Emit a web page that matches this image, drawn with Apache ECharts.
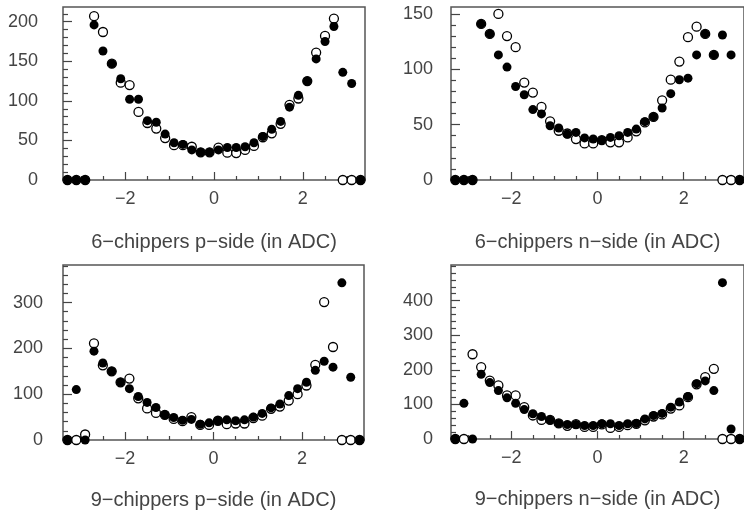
<!DOCTYPE html>
<html><head><meta charset="utf-8">
<script src="https://cdn.jsdelivr.net/npm/echarts@6/dist/echarts.min.js"></script>
<style>html,body{margin:0;padding:0;background:#fff}#c{width:744px;height:512px}</style>
</head><body><div id="c"></div>
<script>
// bin centres (x)
const xCenters = [-3.3,-3.1,-2.9,-2.7,-2.5,-2.3,-2.1,-1.9,-1.7,-1.5,-1.3,-1.1,-0.9,-0.7,-0.5,-0.3,-0.1,
                  0.1,0.3,0.5,0.7,0.9,1.1,1.3,1.5,1.7,1.9,2.1,2.3,2.5,2.7,2.9,3.1,3.3];
const xTickLabels = [-2, 0, 2];

// 6-chippers p-side
const p6Open   = [0,0,0,207,187,147,123,120,86,72,65,53,44,44,42,35,35,41,34.5,34,38,43,54,59,71,95,103,125,161,182,204,0,0,0];
const p6Filled = [0,0,0,196,163,147,128,102,102,75,73,58,47,45,38,35,35,38,41,41,42,47,55,64,74,92,107,125,153,175,194,136,122,0];
// 6-chippers n-side
const n6Open   = [0,0,0,141,132,150,130,120,88,79,66,53,44.5,42,37,33,33,36,34,34,38.5,44,52,57,72,90.6,107,129,138.5,132,113,0,0,0];
const n6Filled = [0,0,0,141,132,113,102,84.5,77,63.6,59.7,49,47,41.5,43,38,37,36,38.5,40,43,46,52.7,57,65,78,90.6,92,113,132,113,131,113,0];
// 9-chippers p-side
const p9Open   = [0,0,12,211,163,150,126,134,91,69,59,55,46,41,50,33,33,42,34.5,36,36,48,53,68,73,86,100,119,164,301,203,0,0,0];
const p9Filled = [0,110,0,194,168,150,126,112,95,82,71,55,49,43,45,34.5,37.5,42,44,42,44,50,58,70,78.5,97,112,126,152,172,159,343,137,0];
// 9-chippers n-side
const n9Open   = [0,0,245,208,169,155,126,126,92,68,55,55,45,38,43,35,35,42,32,35,40,44,54,65,71,88,97,121,158,179,203,0,0,0];
const n9Filled = [0,103,0,187,163,140,119,103,85,73,65,55,45,42,42,39,39,44,44,39,44,45,58,68,74,92,107,123,160,168,140,452,29,0];

// y tick labels per panel
const yTicks6p = [0,50,100,150,200];
const yTicks6n = [0,50,100,150];
const yTicks9p = [0,100,200,300];
const yTicks9n = [0,100,200,300,400];

const titles = ['6−chippers p−side (in ADC)','6−chippers n−side (in ADC)','9−chippers p−side (in ADC)','9−chippers n−side (in ADC)'];

const panels = [
  {title:titles[0], open:p6Open, filled:p6Filled, yTicks:yTicks6p, yMax:218.6, minor:10, lblMargin:25, nameGap:52, rect:{left:63, top:7, width:302, height:173}},
  {title:titles[1], open:n6Open, filled:n6Filled, yTicks:yTicks6n, yMax:156.3, minor:10, lblMargin:18, nameGap:52, rect:{left:451, top:7, width:297, height:173}},
  {title:titles[2], open:p9Open, filled:p9Filled, yTicks:yTicks9p, yMax:382, minor:20, lblMargin:20, nameGap:50, rect:{left:63, top:265, width:301, height:175}},
  {title:titles[3], open:n9Open, filled:n9Filled, yTicks:yTicks9n, yMax:503, minor:20, lblMargin:18, nameGap:50, rect:{left:451, top:265, width:297, height:174}}
];

const FONT = 'Liberation Sans';
const TXT = '#444';
const TICK = '#444';
const xMin = -3.4, xMax = 3.4;
const xMinor = [];
for (let v = -3; v <= 3.0001; v += 0.5) { const r = Math.round(v*10)/10; if (xTickLabels.indexOf(r) < 0) xMinor.push(r); }

const fmt = v => (v < 0 ? '−' + Math.abs(v) : String(v));
const pairs = arr => xCenters.map((x, k) => [x, arr[k]]);

const grid = [], xAxis = [], yAxis = [], series = [];
panels.forEach((p, i) => {
  grid.push(Object.assign({show:true, borderColor:'#555', borderWidth:1.5, backgroundColor:'transparent'}, p.rect));
  xAxis.push({
    type:'value', gridIndex:i, min:xMin, max:xMax, position:'bottom',
    name:p.title, nameLocation:'middle', nameGap:p.nameGap,
    nameTextStyle:{fontFamily:FONT, fontSize:20, color:TXT},
    axisLine:{show:false, onZero:false}, splitLine:{show:false},
    axisTick:{inside:true, length:8, customValues:xTickLabels, lineStyle:{color:TICK, width:1.2}},
    axisLabel:{customValues:xTickLabels, formatter:fmt, margin:10, fontFamily:FONT, fontSize:18, color:TXT}
  });
  xAxis.push({
    type:'value', gridIndex:i, min:xMin, max:xMax, position:'bottom',
    axisLine:{show:false, onZero:false}, splitLine:{show:false}, axisLabel:{show:false},
    axisTick:{inside:true, length:4, customValues:xMinor, lineStyle:{color:TICK, width:1.2}}
  });
  const yMinor = [];
  for (let v = p.minor; v < p.yMax; v += p.minor) if (p.yTicks.indexOf(v) < 0) yMinor.push(v);
  yAxis.push({
    type:'value', gridIndex:i, min:0, max:p.yMax, position:'left',
    axisLine:{show:false, onZero:false}, splitLine:{show:false},
    axisTick:{inside:true, length:9, customValues:p.yTicks, lineStyle:{color:TICK, width:1.2}},
    axisLabel:{customValues:p.yTicks, margin:p.lblMargin, fontFamily:FONT, fontSize:18, color:TXT}
  });
  yAxis.push({
    type:'value', gridIndex:i, min:0, max:p.yMax, position:'left',
    axisLine:{show:false, onZero:false}, splitLine:{show:false}, axisLabel:{show:false},
    axisTick:{inside:true, length:5, customValues:yMinor, lineStyle:{color:TICK, width:1.2}}
  });
  series.push({
    type:'scatter', xAxisIndex:2*i, yAxisIndex:2*i, data:pairs(p.open), clip:false,
    symbol:'circle', symbolSize:9, itemStyle:{color:'#fff', borderColor:'#000', borderWidth:1.3, opacity:1}, z:2
  });
  series.push({
    type:'scatter', xAxisIndex:2*i, yAxisIndex:2*i, data:pairs(p.filled), clip:false,
    symbol:'circle', symbolSize:9, itemStyle:{color:'#000', opacity:1}, z:3
  });
});

const chart = echarts.init(document.getElementById('c'), null, {renderer:'canvas'});
chart.setOption({animation:false, backgroundColor:'#fff', grid, xAxis, yAxis, series});
</script>
</body></html>
